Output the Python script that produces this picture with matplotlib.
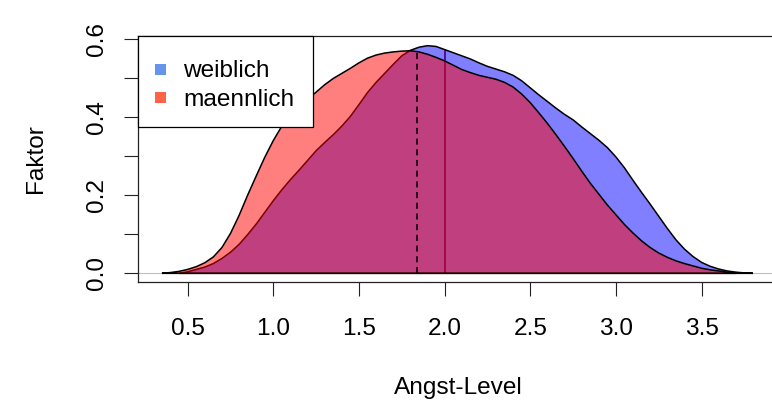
import numpy as np
import matplotlib
matplotlib.use("Agg")
import matplotlib.pyplot as plt
from matplotlib.patches import Rectangle

plt.rcParams['font.family'] = ['Liberation Sans', 'DejaVu Sans']

# ---- data ----
x_m = [0.35, 0.40, 0.45, 0.50, 0.55, 0.60, 0.65, 0.70, 0.75, 0.80, 0.85, 0.90, 0.95,
       1.00, 1.05, 1.10, 1.15, 1.20, 1.25, 1.30, 1.35, 1.40, 1.45, 1.50, 1.55, 1.60,
       1.65, 1.70, 1.75, 1.80, 1.85, 1.90, 1.95, 2.00, 2.05, 2.10, 2.15, 2.20, 2.25,
       2.30, 2.35, 2.40, 2.45, 2.50, 2.55, 2.60, 2.65, 2.70, 2.75, 2.80, 2.85, 2.90,
       2.95, 3.00, 3.05, 3.10, 3.15, 3.20, 3.25, 3.30, 3.35, 3.40, 3.45, 3.50, 3.55,
       3.60, 3.65, 3.70]
d_m = [0.000, 0.002, 0.005, 0.010, 0.017, 0.027, 0.042, 0.066, 0.102, 0.148, 0.200,
       0.249, 0.297, 0.340, 0.377, 0.405, 0.426, 0.446, 0.464, 0.483, 0.499, 0.512,
       0.525, 0.539, 0.551, 0.559, 0.564, 0.567, 0.569, 0.570, 0.567, 0.561, 0.553,
       0.544, 0.533, 0.522, 0.514, 0.507, 0.502, 0.497, 0.489, 0.477, 0.459, 0.437,
       0.411, 0.384, 0.355, 0.325, 0.294, 0.262, 0.231, 0.203, 0.175, 0.150, 0.125,
       0.103, 0.083, 0.066, 0.052, 0.041, 0.032, 0.025, 0.019, 0.013, 0.009, 0.006,
       0.003, 0.000]

x_w = [0.45, 0.50, 0.55, 0.60, 0.65, 0.70, 0.75, 0.80, 0.85, 0.90, 0.95, 1.00, 1.05,
       1.10, 1.15, 1.20, 1.25, 1.30, 1.35, 1.40, 1.45, 1.50, 1.55, 1.60, 1.65, 1.70,
       1.75, 1.80, 1.85, 1.90, 1.95, 2.00, 2.05, 2.10, 2.15, 2.20, 2.25, 2.30, 2.35,
       2.40, 2.45, 2.50, 2.55, 2.60, 2.65, 2.70, 2.75, 2.80, 2.85, 2.90, 2.95, 3.00,
       3.05, 3.10, 3.15, 3.20, 3.25, 3.30, 3.35, 3.40, 3.45, 3.50, 3.55, 3.60, 3.65,
       3.70, 3.75, 3.80]
d_w = [0.000, 0.004, 0.010, 0.016, 0.025, 0.038, 0.054, 0.074, 0.099, 0.126, 0.156,
       0.186, 0.214, 0.240, 0.264, 0.289, 0.314, 0.335, 0.355, 0.377, 0.402, 0.432,
       0.463, 0.489, 0.512, 0.535, 0.557, 0.571, 0.579, 0.583, 0.581, 0.573, 0.565,
       0.557, 0.549, 0.539, 0.530, 0.523, 0.516, 0.507, 0.493, 0.475, 0.457, 0.440,
       0.423, 0.407, 0.393, 0.375, 0.358, 0.341, 0.322, 0.298, 0.270, 0.238, 0.207,
       0.177, 0.146, 0.115, 0.086, 0.062, 0.043, 0.028, 0.018, 0.011, 0.006, 0.003,
       0.001, 0.000]

center_m = 1.837   # dashed line (maennlich)
center_w = 2.0     # solid line (weiblich)

groups = ["weiblich", "maennlich"]
legend_colors = ["#6495ED", "#FF6347"]

x_ticks = [0.5, 1.0, 1.5, 2.0, 2.5, 3.0, 3.5]
x_ticklabels = ["0.5", "1.0", "1.5", "2.0", "2.5", "3.0", "3.5"]
y_ticks = [0.0, 0.1, 0.2, 0.3, 0.4, 0.5, 0.6]
y_ticklabels = ["0.0", "", "0.2", "", "0.4", "", "0.6"]

W, H = 772, 405
fig = plt.figure(figsize=(W / 100, H / 100), dpi=100)
L, R, T, B = 138.3, 778.5, 35.7, 282.3
ax = fig.add_axes([L / W, 1 - B / H, (R - L) / W, (B - T) / H])
ax.set_xlim(0.212, 3.949)
ax.set_ylim(-0.023, 0.6085)

# zero line
ax.axhline(0, color="#BEBEBE", lw=0.8, zorder=1)

# solid mean line for weiblich (under the fills)
h_w = np.interp(center_w, x_w, d_w)
ax.plot([center_w, center_w], [0, h_w], color="#8B0000", lw=1.2, zorder=2)

# density polygons
ax.fill(x_w, d_w, facecolor=(0, 0, 1, 0.5), edgecolor="black", lw=1.1, zorder=3)
ax.fill(x_m, d_m, facecolor=(1, 0, 0, 0.5), edgecolor="black", lw=1.1, zorder=4)

# dashed line for maennlich
h_m = np.interp(center_m, x_m, d_m)
ax.plot([center_m, center_m], [0, h_m], color="black", lw=1.1, ls=(0, (4, 3)), zorder=5)

ax.set_xticks(x_ticks)
ax.set_xticklabels(x_ticklabels)
ax.set_yticks(y_ticks)
ax.set_yticklabels(y_ticklabels, rotation=90, va="center")
ax.tick_params(axis="both", length=10, width=0.8, labelsize=17.6, color="#222222")
ax.tick_params(axis="x", pad=15.5)
ax.tick_params(axis="y", pad=12)
for s in ax.spines.values():
    s.set_linewidth(0.9)
    s.set_color("#222222")

# axis titles
fig.text(458 / W, 1 - 388 / H, "Angst-Level", ha="center", va="center", fontsize=17.6)
fig.text(36.5 / W, 1 - 159 / H, "Faktor", ha="center", va="center", rotation=90, fontsize=17.6)

# legend (top-left box)
lx0, lx1, ly0, ly1 = 138.3, 312.7, 35.7, 127.0
fig.patches.append(Rectangle((lx0 / W, 1 - ly1 / H), (lx1 - lx0) / W, (ly1 - ly0) / H,
                             transform=fig.transFigure, facecolor="white",
                             edgecolor="black", lw=0.9, zorder=10))
rows_center = [69.7, 97.0]
rows_base = [77.3, 106.0]
sq = 11.0
for name, col, yc, yb in zip(groups, legend_colors, rows_center, rows_base):
    fig.patches.append(Rectangle(((160.3 - sq / 2) / W, 1 - (yc + sq / 2) / H), sq / W, sq / H,
                                 transform=fig.transFigure, facecolor=col,
                                 edgecolor="none", zorder=11))
    fig.text(183.3 / W, 1 - yb / H, name, ha="left", va="baseline", fontsize=17.6, zorder=12)

fig.savefig("out.png", dpi=100)
